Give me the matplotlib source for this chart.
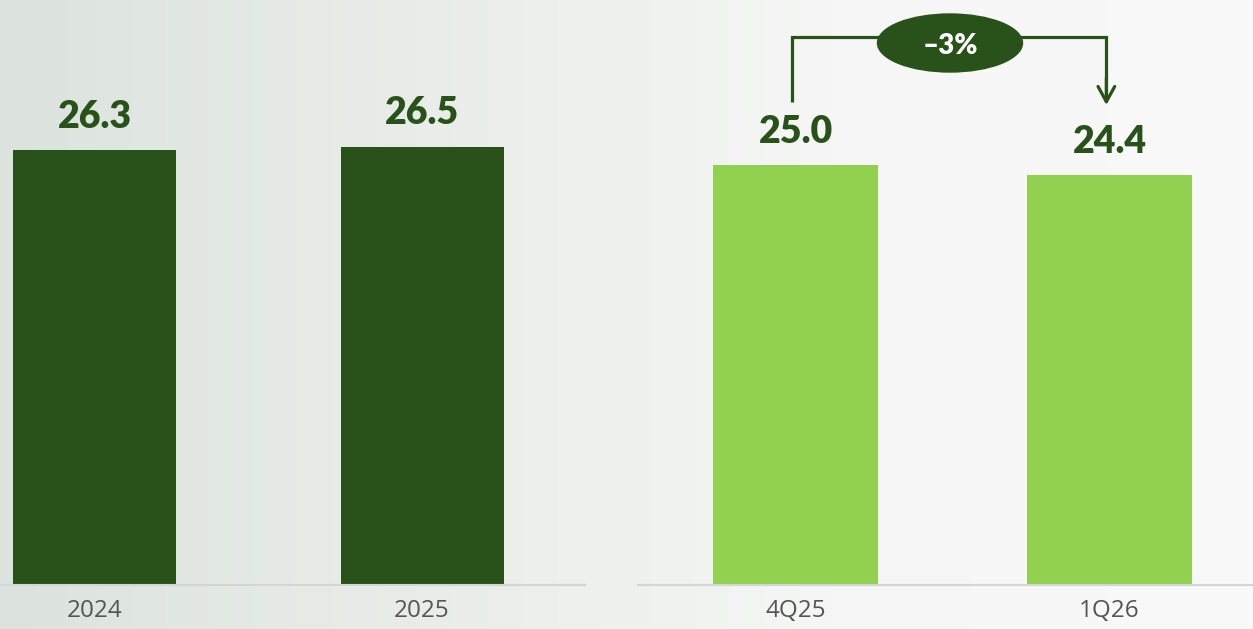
import numpy as np
import matplotlib
matplotlib.use("Agg")
import matplotlib.pyplot as plt
from matplotlib.patches import Ellipse
from matplotlib.colors import LinearSegmentedColormap

# ---- data ----
annual_labels = ["2024", "2025"]
annual_values = [26.3, 26.5]
quarter_labels = ["4Q25", "1Q26"]
quarter_values = [25.0, 24.4]
change_label = "\u20133%"

DARK = "#285219"
LIGHT = "#92d050"
TICK = "#555555"
BASE = "#d3d7d3"

W, H, DPI = 1253, 629, 100
fig = plt.figure(figsize=(W / DPI, H / DPI), dpi=DPI)

# background gradient
bg = fig.add_axes([0, 0, 1, 1], zorder=-10)
cmap = LinearSegmentedColormap.from_list("bg", ["#dce3de", "#e9ede9", "#f5f6f5", "#f9f9f9"])
bg.imshow(np.linspace(0, 1, 256)[None, :], aspect="auto", cmap=cmap, extent=[0, 1, 0, 1])
bg.set_axis_off()

base_y = 585
bottom = (H - base_y) / H
height = base_y / H

VAL_FONT = ["Lato", "DejaVu Sans"]
TICK_FONT = ["Open Sans", "DejaVu Sans"]


def panel(x0, x1, centers_px, width_px, px_per_unit, values, labels, color):
    ax = fig.add_axes([x0 / W, bottom, (x1 - x0) / W, height])
    ax.set_facecolor("none")
    spacing = centers_px[1] - centers_px[0]
    xl = (x0 - centers_px[0]) / spacing
    xr = (x1 - centers_px[0]) / spacing
    pos = np.arange(len(values))
    ax.bar(pos, values, width=width_px / spacing, color=color, zorder=2)
    ax.set_xlim(xl, xr)
    ax.set_ylim(0, base_y / px_per_unit)
    for s in ["left", "right", "top"]:
        ax.spines[s].set_visible(False)
    ax.spines["bottom"].set_color(BASE)
    ax.spines["bottom"].set_linewidth(1.5)
    ax.set_yticks([])
    ax.set_xticks(pos)
    ax.set_xticklabels(labels, fontsize=17.5, color=TICK, fontfamily=TICK_FONT)
    ax.tick_params(axis="x", length=0, pad=10)
    for p, v in zip(pos, values):
        ax.annotate(f"{v:.1f}", (p, v), xytext=(0, 16), textcoords="offset points",
                    ha="center", va="baseline", fontsize=27, fontweight="heavy",
                    color=DARK, fontfamily=VAL_FONT)
    return ax


axL = panel(0, 585, [94.5, 422.0], 163, 16.54, annual_values, annual_labels, DARK)
axR = panel(638, 1253, [795.5, 1109.5], 165, 16.8, quarter_values, quarter_labels, LIGHT)

# change bracket annotation on right panel
ppu = 16.8
top_y = (base_y - 37) / ppu
x_left = -0.012
x_right = 0.99
y_start = quarter_values[0] + 63 / ppu
y_end = quarter_values[1] + 70 / ppu
axR.plot([x_left, x_left, x_right, x_right], [y_start, top_y, top_y, y_end + 0.3],
         color=DARK, lw=2.3, solid_capstyle="butt", solid_joinstyle="miter", clip_on=False, zorder=3)
axR.annotate("", xy=(x_right, y_end), xytext=(x_right, y_end + 1.6),
             arrowprops=dict(arrowstyle="->,head_length=1.1,head_width=0.6", color=DARK, lw=2.3,
                             shrinkA=0, shrinkB=0),
             annotation_clip=False, zorder=3)
cx = (950 - 795.5) / 314
cy = (base_y - 43) / ppu
axR.add_patch(Ellipse((cx, cy), 145 / 314, 58 / ppu, color=DARK, clip_on=False, zorder=4))
axR.text(cx, cy, change_label, ha="center", va="center_baseline", fontsize=20, fontweight="heavy",
         color="white", fontfamily=VAL_FONT, zorder=5)

fig.savefig("out.png", dpi=DPI)
